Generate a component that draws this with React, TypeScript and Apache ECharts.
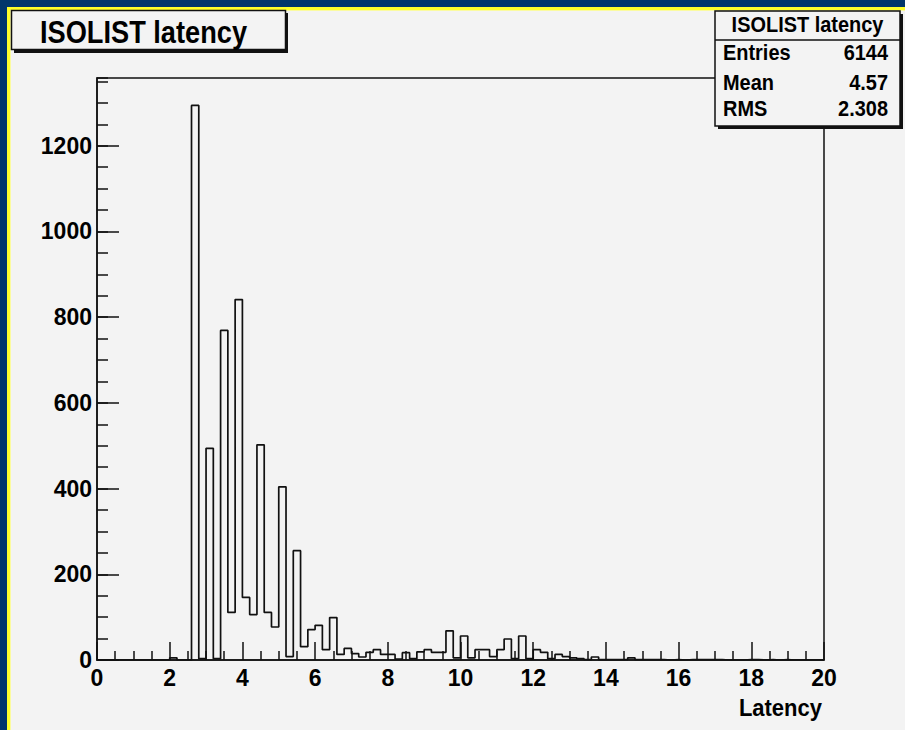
import React, { useEffect, useRef } from "react";
import * as echarts from "echarts";

// Histogram "ISOLIST latency": 100 bins of width 0.2 from 0 to 20
const binStart = 0;
const binWidth = 0.2;
const counts = [
  0, 0, 0, 0, 0, 0, 0, 0, 0, 0,
  5, 0, 0, 1294, 3, 494, 3, 769, 111, 841,
  146, 106, 502, 111, 77, 404, 8, 255, 31, 71,
  81, 24, 99, 13, 27, 15, 7, 18, 24, 13,
  13, 2, 17, 3, 19, 24, 18, 18, 68, 5,
  56, 5, 24, 24, 8, 24, 49, 3, 56, 3,
  24, 18, 3, 13, 8, 5, 3, 1, 7, 1,
  1, 1, 1, 5, 1, 1, 1, 1, 0, 1,
  0, 1, 1, 1, 1, 1, 0, 0, 0, 1,
  1, 0, 1, 0, 1, 0, 0, 0, 0, 0,
];
const xTicks = [0, 20, 2]; // min, max, interval
const yTicks = [0, 1358, 200]; // min, max, major interval
const yMinorInterval = 50;

const titleText = "ISOLIST latency";
const statLabels = ["Entries", "Mean", "RMS"];
const statValues = ["6144", "4.57", "2.308"];
const xName = "Latency";

const FONT = "'Liberation Sans', Arial, Helvetica, sans-serif";
const INK = "#111111";

export default function App() {
  const ref = useRef<HTMLDivElement>(null);

  useEffect(() => {
    document.body.style.margin = "0";
    if (!ref.current) return;
    const chart = echarts.init(ref.current, null, { renderer: "svg" });

    const stepData: [number, number][] = counts.map((c, i) => [
      binStart + i * binWidth,
      c,
    ]);
    stepData.push([binStart + counts.length * binWidth, counts[counts.length - 1]]);

    const boxX = 715;
    const boxY = 11;
    const boxW = 185;
    const boxH = 115;
    const rowY = [53, 83, 109];

    const statText = (t: string, x: number, y: number, align: string) => ({
      type: "text",
      x,
      y,
      z: 103,
      scaleX: 0.95,
      scaleY: 1.08,
      style: { text: t, font: `bold 21px ${FONT}`, fill: "#000", textAlign: align, textVerticalAlign: "middle" },
    });

    const graphics: any[] = [
      // frame
      { type: "rect", shape: { x: 0, y: 0, width: 905, height: 7 }, style: { fill: "#02366b" }, z: 100 },
      { type: "rect", shape: { x: 0, y: 0, width: 7, height: 730 }, style: { fill: "#02366b" }, z: 100 },
      { type: "rect", shape: { x: 7, y: 7, width: 898, height: 3 }, style: { fill: "#ffff2a" }, z: 100 },
      { type: "rect", shape: { x: 7, y: 7, width: 3, height: 723 }, style: { fill: "#ffff2a" }, z: 100 },
      { type: "rect", shape: { x: 10, y: 10, width: 895, height: 1 }, style: { fill: "#fbfba0" }, z: 100 },
      { type: "rect", shape: { x: 10, y: 10, width: 1, height: 720 }, style: { fill: "#fbfba0" }, z: 100 },
      // title box
      { type: "rect", shape: { x: 14, y: 13, width: 274, height: 40 }, style: { fill: INK }, z: 101 },
      { type: "rect", shape: { x: 11.5, y: 10.5, width: 274, height: 39 }, style: { fill: "#f3f3f3", stroke: INK, lineWidth: 1.5 }, z: 102 },
      {
        type: "text",
        x: 40, y: 32, z: 103,
        scaleX: 0.85,
        style: { text: titleText, font: `bold 32px ${FONT}`, fill: "#000", textVerticalAlign: "middle", textAlign: "left" },
      },
      // stats box
      { type: "rect", shape: { x: boxX + 3, y: boxY + 3, width: boxW, height: boxH }, style: { fill: INK }, z: 101 },
      { type: "rect", shape: { x: boxX, y: boxY, width: boxW, height: boxH }, style: { fill: "#f3f3f3", stroke: INK, lineWidth: 1.5 }, z: 102 },
      { type: "line", shape: { x1: boxX, y1: 40, x2: boxX + boxW, y2: 40 }, style: { stroke: INK, lineWidth: 1.5 }, z: 103 },
      statText(titleText, boxX + boxW / 2, 25, "center"),
      ...statLabels.map((t, i) => statText(t, boxX + 8, rowY[i], "left")),
      ...statValues.map((t, i) => statText(t, boxX + boxW - 12, rowY[i], "right")),
      // x axis title
      {
        type: "text", x: 822, y: 708, z: 103,
        scaleY: 1.05,
        style: { text: xName, font: `bold 22px ${FONT}`, fill: "#000", textAlign: "right", textVerticalAlign: "middle" },
      },
    ];

    chart.setOption({
      animation: false,
      backgroundColor: "#f3f3f3",
      grid: {
        left: 97,
        right: 81,
        top: 78,
        bottom: 70,
        show: true,
        borderColor: INK,
        borderWidth: 1.5,
        backgroundColor: "transparent",
      },
      xAxis: {
        type: "value",
        min: xTicks[0],
        max: xTicks[1],
        interval: xTicks[2],
        axisLine: { show: true, onZero: false, lineStyle: { color: INK, width: 1.5 } },
        axisTick: { show: true, inside: true, length: 18, lineStyle: { color: INK, width: 1.5 } },
        minorTick: { show: true, splitNumber: 4, length: 9, lineStyle: { color: INK, width: 1.5 } },
        splitLine: { show: false },
        axisLabel: { color: "#000", fontFamily: FONT, fontWeight: "bold", fontSize: 23, margin: 6 },
      },
      yAxis: [
        {
          type: "value",
          min: yTicks[0],
          max: yTicks[1],
          interval: yTicks[2],
          axisLine: { show: true, lineStyle: { color: INK, width: 1.5 } },
          axisTick: { show: true, inside: true, length: 22, lineStyle: { color: INK, width: 1.5 } },
          splitLine: { show: false },
          axisLabel: {
            color: "#000",
            fontFamily: FONT,
            fontWeight: "bold",
            fontSize: 23,
            margin: 5,
            showMaxLabel: false,
            formatter: (v: number) => (v % yTicks[2] === 0 ? String(v) : ""),
          },
        },
        {
          type: "value",
          position: "left",
          min: yTicks[0],
          max: yTicks[1],
          interval: yMinorInterval,
          axisLine: { show: false },
          axisTick: { show: true, inside: true, length: 11, lineStyle: { color: INK, width: 1.5 } },
          splitLine: { show: false },
          axisLabel: { show: false },
        },
      ],
      series: [
        {
          type: "line",
          step: "end",
          data: stepData,
          symbol: "none",
          lineStyle: { color: INK, width: 1.7 },
          z: 5,
        },
      ],
      graphic: graphics,
    });

    return () => chart.dispose();
  }, []);

  return <div ref={ref} style={{ width: 905, height: 730 }} />;
}
